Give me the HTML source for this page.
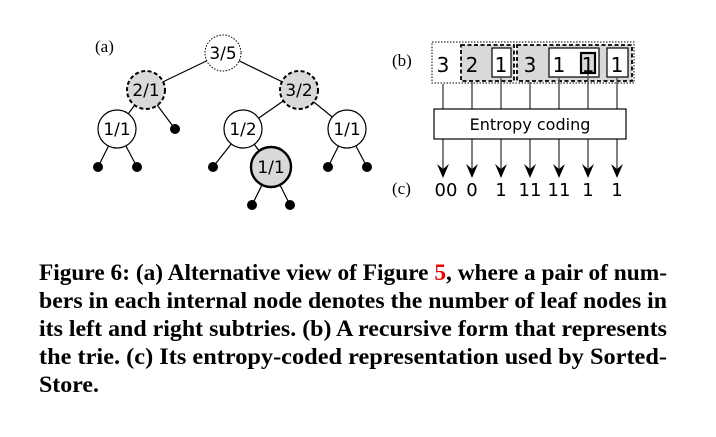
<!DOCTYPE html>
<html><head><style>
html,body{margin:0;padding:0;background:#fff;width:716px;height:437px;overflow:hidden}
svg{display:block}
.ss{font-family:"DejaVu Sans","Liberation Sans",sans-serif}
.cap{font-family:"Liberation Serif",serif;font-weight:bold;font-size:23px}
</style></head><body>
<svg width="716" height="437" viewBox="0 0 716 437" xmlns="http://www.w3.org/2000/svg">
<g stroke="#000" stroke-width="1.2">
<line x1="223" y1="53" x2="146" y2="90"/>
<line x1="223" y1="53" x2="299" y2="90"/>
<line x1="146" y1="90" x2="117" y2="129"/>
<line x1="146" y1="90" x2="175" y2="129"/>
<line x1="299" y1="90" x2="243" y2="129"/>
<line x1="299" y1="90" x2="347" y2="129"/>
<line x1="117" y1="129" x2="98" y2="167"/>
<line x1="117" y1="129" x2="137" y2="167"/>
<line x1="243" y1="129" x2="213" y2="167"/>
<line x1="243" y1="129" x2="271" y2="167"/>
<line x1="347" y1="129" x2="328" y2="167"/>
<line x1="347" y1="129" x2="367" y2="167"/>
<line x1="271" y1="167" x2="252" y2="205"/>
<line x1="271" y1="167" x2="290" y2="205"/>
</g>
<circle cx="223" cy="53" r="18" fill="#fff" stroke="#000" stroke-width="1" stroke-dasharray="1.5,1.5"/>
<circle cx="146" cy="90" r="19" fill="#d9d9d9" stroke="#000" stroke-width="2" stroke-dasharray="4,2.5"/>
<circle cx="299" cy="90" r="19" fill="#d9d9d9" stroke="#000" stroke-width="2" stroke-dasharray="4,2.5"/>
<circle cx="117" cy="129" r="19" fill="#fff" stroke="#000" stroke-width="1.2"/>
<circle cx="243" cy="129" r="19" fill="#fff" stroke="#000" stroke-width="1.2"/>
<circle cx="347" cy="129" r="19" fill="#fff" stroke="#000" stroke-width="1.2"/>
<circle cx="271" cy="167" r="20" fill="#d9d9d9" stroke="#000" stroke-width="2.4"/>
<g fill="#000">
<circle cx="175" cy="129" r="5"/><circle cx="98" cy="167" r="5"/><circle cx="137" cy="167" r="5"/>
<circle cx="213" cy="167" r="5"/><circle cx="328" cy="167" r="5"/><circle cx="367" cy="167" r="5"/>
<circle cx="252" cy="205" r="5"/><circle cx="290" cy="205" r="5"/>
</g>
<g class="ss" font-size="17" text-anchor="middle" fill="#000">
<text x="223" y="59">3/5</text><text x="146" y="96">2/1</text><text x="299" y="96">3/2</text>
<text x="117" y="135">1/1</text><text x="243" y="135">1/2</text><text x="347" y="135">1/1</text>
<text x="271" y="173">1/1</text>
</g>
<text x="95" y="52" font-family="Liberation Serif,serif" font-size="17">(a)</text>
<text x="392" y="66" font-family="Liberation Serif,serif" font-size="17">(b)</text>
<text x="392" y="194" font-family="Liberation Serif,serif" font-size="17">(c)</text>
<rect x="432" y="42" width="202" height="41" fill="#fff" stroke="#000" stroke-width="1" stroke-dasharray="1.5,1.5"/>
<rect x="461" y="45" width="53" height="36" fill="#d9d9d9" stroke="#000" stroke-width="1.8" stroke-dasharray="4,2.5"/>
<rect x="517" y="45" width="115" height="36" fill="#d9d9d9" stroke="#000" stroke-width="1.8" stroke-dasharray="4,2.5"/>
<rect x="492" y="48" width="19" height="29" fill="#fff" stroke="#000" stroke-width="1.2"/>
<rect x="549" y="48" width="50" height="29" fill="#fff" stroke="#000" stroke-width="1.2"/>
<rect x="581" y="53" width="14" height="20" fill="#d9d9d9" stroke="#000" stroke-width="2.2"/>
<rect x="607" y="48" width="21" height="29" fill="#fff" stroke="#000" stroke-width="1.2"/>
<g class="ss" font-size="20" text-anchor="middle">
<text x="443" y="72">3</text><text x="472" y="72">2</text><text x="501" y="72">1</text>
<text x="530" y="72">3</text><text x="559" y="72">1</text><text x="588" y="72">1</text><text x="617" y="72">1</text>
</g>
<g stroke="#555" stroke-width="1.5">
<line x1="443" y1="84" x2="443" y2="109"/><line x1="472" y1="82" x2="472" y2="109"/><line x1="501" y1="78" x2="501" y2="109"/>
<line x1="530" y1="82" x2="530" y2="109"/><line x1="559" y1="78" x2="559" y2="109"/><line x1="588" y1="74" x2="588" y2="109"/><line x1="617" y1="78" x2="617" y2="109"/>
<line x1="443" y1="139" x2="443" y2="172"/><line x1="472" y1="139" x2="472" y2="172"/><line x1="501" y1="139" x2="501" y2="172"/>
<line x1="530" y1="139" x2="530" y2="172"/><line x1="559" y1="139" x2="559" y2="172"/><line x1="588" y1="139" x2="588" y2="172"/><line x1="617" y1="139" x2="617" y2="172"/>
</g>
<g fill="#000">
<path d="M437 164 L443 178 L449 164 L443 169 Z"/><path d="M466 164 L472 178 L478 164 L472 169 Z"/>
<path d="M495 164 L501 178 L507 164 L501 169 Z"/><path d="M524 164 L530 178 L536 164 L530 169 Z"/>
<path d="M553 164 L559 178 L565 164 L559 169 Z"/><path d="M582 164 L588 178 L594 164 L588 169 Z"/>
<path d="M611 164 L617 178 L623 164 L617 169 Z"/>
</g>
<rect x="434" y="109" width="192" height="30" fill="#fff" stroke="#000" stroke-width="1.2"/>
<text x="530" y="130" class="ss" font-size="16" text-anchor="middle">Entropy coding</text>
<g class="ss" font-size="18" text-anchor="middle">
<text x="446" y="196">00</text><text x="472" y="196">0</text><text x="501" y="196">1</text>
<text x="530" y="196">11</text><text x="559" y="196">11</text><text x="588" y="196">1</text><text x="617" y="196">1</text>
</g>
<g class="cap">
<text x="39" y="280" textLength="628" lengthAdjust="spacingAndGlyphs">Figure 6: (a) Alternative view of Figure <tspan fill="#e00">5</tspan>, where a pair of num-</text>
<text x="39" y="308" textLength="628" lengthAdjust="spacingAndGlyphs">bers in each internal node denotes the number of leaf nodes in</text>
<text x="39" y="336" textLength="628" lengthAdjust="spacingAndGlyphs">its left and right subtries.  (b) A recursive form that represents</text>
<text x="39" y="364" textLength="628" lengthAdjust="spacingAndGlyphs">the trie.  (c) Its entropy-coded representation used by Sorted-</text>
<text x="39" y="392" textLength="60" lengthAdjust="spacingAndGlyphs">Store.</text>
</g>
</svg>
</body></html>
